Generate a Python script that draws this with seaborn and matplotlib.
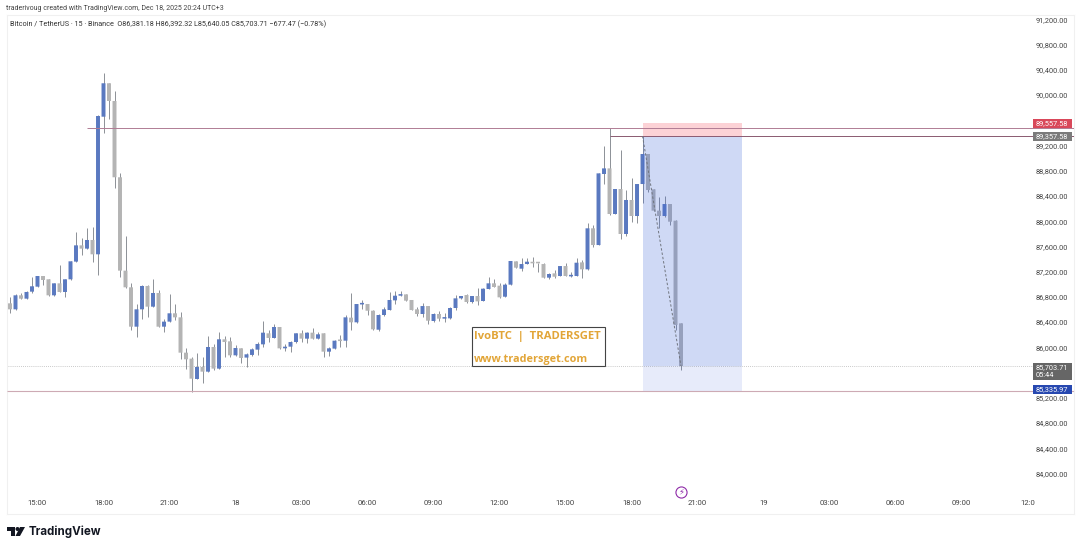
import numpy as np
import pandas as pd
import seaborn as sns
import matplotlib.pyplot as plt
from matplotlib.patches import Rectangle, Polygon, Circle
from matplotlib.transforms import blended_transform_factory

# 15 min candles
opens = [86698, 86603, 86825, 86772, 86883, 86962, 87131, 87079, 86825, 87015, 86878, 87079, 87359, 87617, 87565, 87702,
         87475, 89656, 90186, 89905, 88696, 87216, 86952, 86328, 86603, 86973, 86645, 86862, 86328, 86408, 86540, 86476,
         85916, 85821, 85499, 85689, 85615, 86006, 85663, 86128, 86096, 85874, 85985, 85838, 85880, 85964, 86048, 86223,
         86149, 86323, 85985, 86011, 86085, 86223, 86138, 86233, 86138, 86223, 85932, 85980, 86106, 86106, 86471, 86397,
         86680, 86687, 86581, 86280, 86513, 86592, 86745, 86819, 86840, 86751, 86603, 86529, 86655, 86418, 86529, 86455,
         86460, 86624, 86777, 86830, 86719, 86814, 86735, 86925, 87015, 86978, 86803, 86994, 87363, 87247, 87321, 87353,
         87342, 87321, 87105, 87173, 87131, 87289, 87125, 87131, 87347, 87237, 87887, 87622, 88748, 88837, 88114, 88510,
         87797, 88336, 88082, 88589, 89065, 88505, 88167, 88082, 88272, 88008, 86381]
highs = [86804, 86840, 86867, 86890, 87121, 87131, 87131, 87090, 87020, 87306, 87079, 87370, 87834, 87728, 87887, 87903,
         89680, 90349, 90190, 90068, 88764, 87765, 87015, 86688, 86985, 86989, 87079, 86910, 86445, 86846, 86688, 86556,
         85985, 85853, 85916, 85853, 86181, 86054, 86239, 86186, 86159, 86038, 85990, 85906, 85985, 86091, 86424, 86276,
         86371, 86330, 86054, 86106, 86233, 86276, 86249, 86302, 86249, 86233, 86011, 86117, 86196, 86513, 86856, 86695,
         86751, 86695, 86590, 86529, 86645, 86883, 86899, 86893, 86845, 86755, 86634, 86708, 86660, 86550, 86581, 86539,
         86645, 86830, 86816, 86846, 86816, 86935, 86935, 87110, 87089, 87025, 87015, 87375, 87374, 87411, 87411, 87427,
         87345, 87332, 87173, 87226, 87293, 87332, 87200, 87411, 87385, 87966, 87939, 88770, 89191, 89471, 88515, 89128,
         88494, 88679, 88595, 89350, 89070, 88510, 88388, 88399, 88275, 88015, 86392]
lows = [86540, 86590, 86772, 86760, 86867, 86950, 86989, 86820, 86820, 86870, 86804, 87070, 87355, 87464, 87560, 87359,
        87147, 89403, 89615, 88526, 87121, 86945, 86276, 86159, 86445, 86476, 86640, 86320, 86249, 86400, 86434, 85811,
        85652, 85298, 85495, 85430, 85610, 85642, 85660, 85853, 85853, 85864, 85758, 85695, 85864, 85879, 86011, 86091,
        86145, 85969, 85948, 85932, 86075, 86091, 86064, 86135, 86128, 85842, 85864, 85969, 86011, 86000, 86275, 86390,
        86603, 86513, 86280, 86265, 86497, 86590, 86687, 86819, 86735, 86590, 86497, 86486, 86370, 86407, 86423, 86402,
        86455, 86592, 86770, 86708, 86708, 86666, 86730, 86920, 86950, 86777, 86800, 86990, 87260, 87215, 87318, 87268,
        87200, 87094, 87078, 87094, 87128, 87128, 87120, 87128, 87094, 87232, 87585, 87618, 88589, 88093, 88110, 87712,
        87765, 87992, 87966, 88293, 88468, 88160, 87887, 88061, 87939, 86275, 85640]
closes = [86603, 86825, 86772, 86878, 86968, 87131, 87068, 86825, 87015, 86878, 87079, 87364, 87617, 87565, 87702, 87475,
          89667, 90186, 89905, 88696, 87216, 86952, 86328, 86603, 86973, 86645, 86862, 86328, 86408, 86540, 86476, 85916,
          85811, 85504, 85689, 85615, 86006, 85663, 86128, 86085, 85874, 85990, 85832, 85890, 85969, 86054, 86233, 86149,
          86323, 85985, 86011, 86085, 86223, 86138, 86233, 86138, 86207, 85932, 85985, 86106, 86100, 86476, 86397, 86687,
          86687, 86581, 86286, 86513, 86603, 86751, 86819, 86835, 86740, 86592, 86529, 86655, 86423, 86529, 86455, 86465,
          86624, 86777, 86814, 86719, 86814, 86729, 86930, 87015, 86957, 86793, 86994, 87369, 87263, 87321, 87358, 87332,
          87332, 87105, 87163, 87120, 87289, 87131, 87131, 87342, 87237, 87887, 87622, 88758, 88837, 88114, 88510, 87797,
          88336, 88082, 88589, 89065, 88494, 88167, 88082, 88272, 87992, 86355, 85704]

price_ticks = [84000 + 400 * i for i in range(19)]
hidden_ticks = [85600, 89600]  # these two sit under the price tags
time_labels = ['15:00', '18:00', '21:00', '18', '03:00', '06:00', '09:00', '12:00',
               '15:00', '18:00', '21:00', '19', '03:00', '06:00', '09:00', '12:0']
time_ticks = [5 + 12 * i for i in range(len(time_labels))]

blue = '#5a79c0'
grey = '#b4b4b4'
wick = '#7a7e86'

df = pd.DataFrame({'i': range(len(opens)), 'o': opens, 'h': highs, 'l': lows, 'c': closes})
df['up'] = df.c >= df.o
df['base'] = df[['o', 'c']].min(axis=1)
df['size'] = (df.c - df.o).abs().clip(lower=25)

sns.set_theme(style='white')
plt.rcParams['font.family'] = ['Roboto', 'DejaVu Sans']

fig = plt.figure(figsize=(10.8, 5.49), dpi=100, facecolor='white')
ax = fig.add_axes([6.7 / 1080, 35 / 549, 1067.3 / 1080, 499 / 549])

ax.vlines(df.i, df.l, df.h, color=wick, lw=0.6, zorder=2)
for flag, col in [(True, blue), (False, grey)]:
    part = df[df.up == flag]
    sns.barplot(x=part.i.values, y=part['size'].values, bottom=part.base.values, native_scale=True,
                width=0.72, color=col, saturation=1, errorbar=None, linewidth=0, zorder=3, ax=ax)
for bars in ax.containers:
    for b in bars:
        b.set_snap(False)

ax.set_xlim(-0.6, 193.45)
ax.set_ylim(83359, 91268)

# position box
ax.add_patch(Rectangle((115, 89357), 18.05, 195, fc='#f23645', alpha=0.22, lw=0, zorder=4))
ax.add_patch(Rectangle((115, 85704), 18.05, 3653, fc='#3a62d8', alpha=0.24, lw=0, zorder=4))
ax.add_patch(Rectangle((115, 85309), 18.05, 395, fc='#3a62d8', alpha=0.12, lw=0, zorder=4))

# levels
ax.hlines(89480, 14, 193.45, color='#b07c94', lw=0.7, zorder=5)
ax.hlines(89350, 109, 193.45, color='#8a5a70', lw=0.7, zorder=5)
ax.hlines(85309, -0.6, 193.45, color='#cdaab4', lw=0.8, zorder=5)
ax.hlines(85704, -0.4, 186, color='#b8b8b8', lw=0.6, ls=(0, (1, 1.5)), zorder=1)
ax.plot([115, 122], [89350, 85704], color='#70757f', lw=0.7, ls=(0, (2.5, 2)), zorder=5)

# watermark
ax.add_patch(Rectangle((84, 85705), 24.1, 623, fc='white', ec='#444444', lw=0.8, zorder=6))
ax.text(84.3, 86180, 'IvoBTC  |  TRADERSGET', color='#e2a537', fontsize=8.1, fontweight='bold',
        family='Open Sans', va='center', zorder=7)
ax.text(84.3, 85815, 'www.tradersget.com', color='#e2a537', fontsize=7.8, fontweight='bold',
        family='Open Sans', va='center', zorder=7)

# axes, labels sit inside the pane
ax.yaxis.tick_right()
ax.set_yticks(price_ticks)
ax.set_yticklabels(['' if v in hidden_ticks else f'{v:,.2f}' for v in price_ticks],
                   ha='right', fontsize=5.3, color='#444444')
ax.tick_params(axis='y', length=0, pad=-4.3)
ax.set_xticks(time_ticks)
ax.set_xticklabels(time_labels, fontsize=5.6, color='#444444')
ax.tick_params(axis='x', length=0, pad=-10)
ax.set_xlabel('')
ax.set_ylabel('')
for s in ax.spines.values():
    s.set_color('#f0f0f0')
    s.set_linewidth(0.8)

# price tags on the right
tr = blended_transform_factory(ax.transAxes, ax.transData)


def price_tag(centre, height, text, col):
    ax.add_patch(Rectangle((0.9615, centre - height / 2), 0.0366, height, fc=col, lw=0, transform=tr, zorder=8, clip_on=False))
    ax.text(0.9944, centre, text, transform=tr, ha='right', va='center', ma='left', color='white', fontsize=5.3,
            linespacing=1.25, zorder=9)


price_tag(89548, 143, '89,557.58', '#d9485a')
price_tag(89342, 143, '89,357.58', '#7b7b7b')
price_tag(85620, 274, '85,703.71\n05:44', '#666666')
price_tag(85336, 143, '85,335.97', '#2748b0')

# lightning mark
ax.plot([122], [83715], marker='o', ms=8, mfc='none', mec='#8e2aa8', mew=0.8, zorder=6)
ax.text(122, 83715, '\u26a1', color='#8e2aa8', fontsize=6, ha='center', va='center', family='DejaVu Sans', zorder=7)

# header text
fig.text(6 / 1080, 1 - 9 / 549, 'traderivoug created with TradingView.com, Dec 18, 2025 20:24 UTC+3',
         fontsize=5.0, color='#444444', va='center')
fig.text(10 / 1080, 1 - 24 / 549,
         'Bitcoin / TetherUS \u00b7 15 \u00b7 Binance  O86,381.18 H86,392.32 L85,640.05 C85,703.71 \u2212677.47 (\u22120.78%)',
         fontsize=5.2, color='#333333', va='center')

# TradingView logo
logo = fig.add_axes([0, 0, 1, 1], facecolor='none')
logo.set_xlim(0, 1080)
logo.set_ylim(549, 0)
logo.axis('off')
logo.add_patch(Polygon([(7, 527), (15, 527), (15, 536), (11, 536), (11, 531), (7, 531)], fc='#131722', lw=0))
logo.add_patch(Circle((17.5, 529), 2, fc='#131722', lw=0))
logo.add_patch(Polygon([(20, 527), (25, 527), (20, 536), (15.5, 536)], fc='#131722', lw=0))
logo.text(28.5, 532, 'TradingView', fontsize=8.3, fontweight='bold', color='#131722', va='center', family='Inter')

fig.savefig('out.png', dpi=100)
